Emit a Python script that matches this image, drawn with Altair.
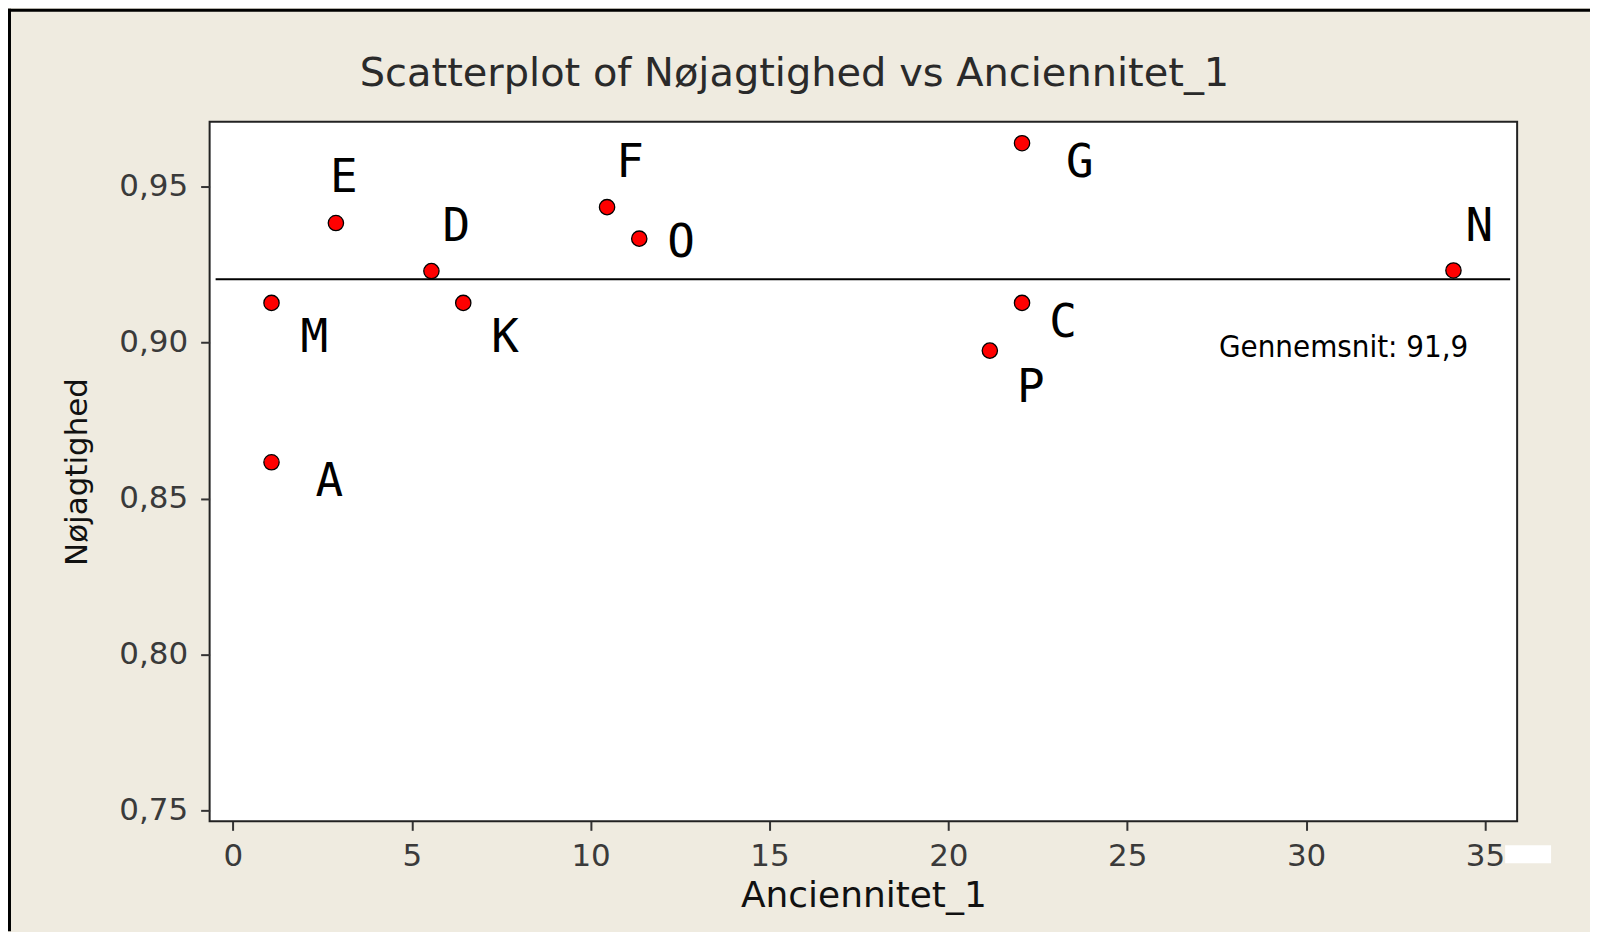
import altair as alt
import pandas as pd

# ---- data ----
labels = ["A", "C", "D", "E", "F", "G", "K", "M", "N", "O", "P"]
anciennitet = [1.08, 22.06, 5.55, 2.88, 10.46, 22.06, 6.44, 1.08, 34.12, 11.36, 21.16]
noejagtighed = [0.8616, 0.9127, 0.9229, 0.9383, 0.9434, 0.9639, 0.9127, 0.9127, 0.9231, 0.9333, 0.8974]
mean_value = 0.9203
mean_text = "Gennemsnit: 91,9"
x_ticks = [0, 5, 10, 15, 20, 25, 30, 35]
y_ticks = [0.75, 0.80, 0.85, 0.90, 0.95]
title_text = "Scatterplot of Nøjagtighed vs Anciennitet_1"
x_title = "Anciennitet_1"
y_title = "Nøjagtighed"

# ---- layout / style (kept apart from the data) ----
label_offsets = {
    "A": (58, 17), "C": (41, 17), "D": (25, -47), "E": (8, -48),
    "F": (23, -47), "G": (58, 17), "K": (42, 32), "M": (43, 32),
    "N": (26, -47), "O": (42, 1), "P": (41, 34),
}
BG = "#EFEBE0"
W, H = 1310, 701
NARROW = "Liberation Sans Narrow, DejaVu Sans Condensed, Roboto Condensed, Roboto, sans-serif"

df = pd.DataFrame({"label": labels, "x": anciennitet, "y": noejagtighed})

xscale = alt.Scale(domain=[-0.65, 35.9], nice=False, zero=False)
yscale = alt.Scale(domain=[0.7465, 0.9708], nice=False, zero=False)

xaxis = alt.Axis(values=x_ticks, grid=False, domain=False, tickSize=9, tickWidth=2,
                 tickColor="#333333", labelPadding=11, labelFont="DejaVu Sans",
                 labelFontSize=31, labelColor="#3a3a3a", titleFont="DejaVu Sans",
                 titleFontSize=36, titleFontWeight="normal", titleColor="#111111",
                 titlePadding=7)
yaxis = alt.Axis(values=y_ticks, grid=False, domain=False, tickSize=9, tickWidth=2,
                 tickColor="#333333", labelPadding=13, labelFont="DejaVu Sans",
                 labelFontSize=31, labelColor="#3a3a3a",
                 labelExpr="replace(format(datum.value, '.2f'), '.', ',')",
                 titleFont="DejaVu Sans", titleFontSize=31, titleFontWeight="normal",
                 titleColor="#111111", titlePadding=25)

x_enc = alt.X("x:Q", scale=xscale, axis=xaxis, title=x_title)
y_enc = alt.Y("y:Q", scale=yscale, axis=yaxis, title=y_title)

base = alt.Chart(df)

points = base.mark_circle(size=235, color="#FF0000", stroke="black",
                          strokeWidth=1.3, opacity=1).encode(x=x_enc, y=y_enc)

text_layers = []
for lab, (dx, dy) in label_offsets.items():
    text_layers.append(
        base.transform_filter(alt.datum.label == lab)
        .mark_text(dx=dx, dy=dy + 3, font="DejaVu Sans Mono", fontSize=46,
                   align="center", baseline="middle", color="black")
        .encode(x=x_enc, y=y_enc, text="label:N")
    )

mean_rule = alt.Chart(pd.DataFrame({"y": [mean_value]})).mark_rule(
    color="black", strokeWidth=2
).encode(y=y_enc, x=alt.value(6), x2=alt.value(W - 7))

mean_label = alt.Chart(pd.DataFrame({"t": [mean_text]})).mark_text(
    align="right", baseline="alphabetic", font=NARROW,
    fontSize=31, color="black"
).encode(x=alt.value(1261), y=alt.value(236), text="t:N")

deco = pd.DataFrame({"a": [0]})
white_patch = alt.Chart(deco).mark_rect(color="white").encode(
    x=alt.value(1298), x2=alt.value(1344), y=alt.value(725), y2=alt.value(743))
left_border = alt.Chart(deco).mark_rule(color="black", strokeWidth=3).encode(
    x=alt.value(-200.5), y=alt.value(-113), y2=alt.value(811))
top_border = alt.Chart(deco).mark_rule(color="black", strokeWidth=3).encode(
    x=alt.value(-202), x2=alt.value(1383), y=alt.value(-111.5))

chart = alt.layer(
    mean_rule, points, *text_layers, mean_label, white_patch, left_border, top_border
).properties(
    width=W, height=H,
    autosize=alt.AutoSizeParams(type="none"),
    padding={"left": 202, "top": 113, "right": 73, "bottom": 110},
    background=BG,
    title=alt.Title(title_text, font="DejaVu Sans", fontSize=40, fontWeight="normal",
                    color="#2a2a2a", anchor="middle", frame="group", dx=-69, offset=-87),
).configure_view(stroke="#222222", strokeWidth=2, fill="white")

chart.save("out.html", embed_options={"renderer": "svg", "actions": False})
